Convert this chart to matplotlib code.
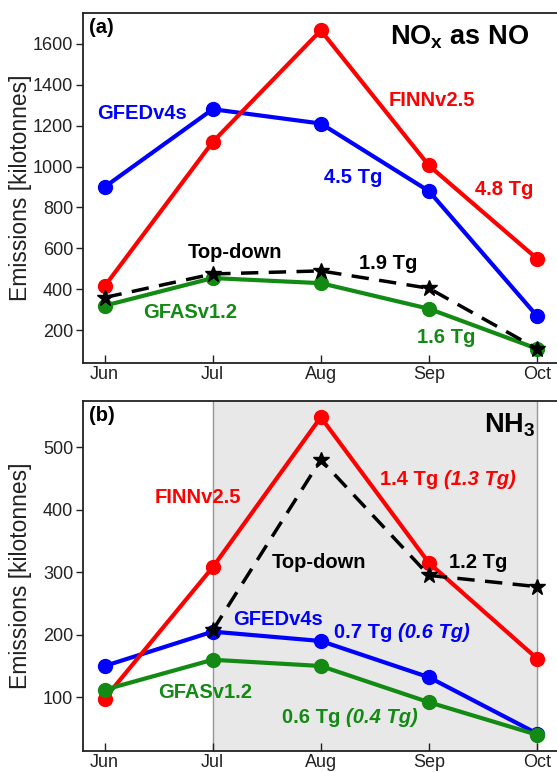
import matplotlib
matplotlib.use('Agg')
import matplotlib.pyplot as plt

plt.rcParams['font.family'] = ['Liberation Sans', 'DejaVu Sans']
plt.rcParams['mathtext.fontset'] = 'custom'
plt.rcParams['mathtext.rm'] = 'Liberation Sans'
plt.rcParams['mathtext.bf'] = 'Liberation Sans:bold'

# ── Data ───────────────────────────────────────────────────────────────────
months = ['Jun', 'Jul', 'Aug', 'Sep', 'Oct']
x = list(range(len(months)))

# (a) NOx as NO [kilotonnes]
nox_gfed = [900, 1280, 1210, 880, 270]
nox_finn = [415, 1120, 1665, 1005, 550]
nox_topdown = [360, 475, 490, 405, 110]
nox_gfas = [320, 455, 430, 305, 110]

# (b) NH3 [kilotonnes]
nh3_finn = [98, 308, 548, 315, 162]
nh3_gfed = [150, 205, 190, 132, 42]
nh3_gfas = [112, 160, 150, 92, 40]
nh3_topdown = [207, 480, 295, 277]   # Jul-Oct only
x_td_nh3 = x[1:]

RED, BLUE, GREEN = '#ff0000', '#0000ff', '#138a13'

# ── Figure ─────────────────────────────────────────────────────────────────
W, H = 557, 772
fig = plt.figure(figsize=(W / 100, H / 100), dpi=100)
ax1 = fig.add_axes([83 / W, 1 - 363 / H, 475.6 / W, 350 / H])
ax2 = fig.add_axes([83 / W, 1 - 751 / H, 475.6 / W, 350 / H])

def style(ax):
    ax.set_xlim(-0.2, 4.2)
    ax.set_xticks(x)
    ax.set_xticklabels(months)
    for s in ax.spines.values():
        s.set_color('#222222')
        s.set_linewidth(1.3)
    ax.tick_params(axis='x', direction='in', length=6, width=1, labelsize=13, pad=2, colors='#222222')
    ax.tick_params(axis='y', direction='out', length=5, width=1, labelsize=13, pad=2, colors='#222222')
    ax.set_ylabel('Emissions [kilotonnes]', fontsize=16.5, color='#222222')
    # same label position in both panels, clear of the widest tick label
    ax.yaxis.set_label_coords(-0.107, 0.5)

lw = 3
ms = 10
FS = 14.5

def label(ax, xv, yv, s, c):
    ax.text(xv, yv, s, color=c, fontsize=FS, fontweight='bold', ha='center', va='center')

def label2(ax, xv, yv, s1, s2, c):
    # upright total followed by italic value in brackets
    ax.text(xv, yv, s1 + ' ', color=c, fontsize=FS, fontweight='bold', ha='right', va='center')
    ax.text(xv, yv, s2, color=c, fontsize=FS, fontweight='bold', style='italic',
            ha='left', va='center')

# ── (a) NOx ───────────────────────────────────────────────────────────────
ax1.plot(x, nox_gfed, '-o', color=BLUE, lw=lw, ms=ms, zorder=3)
ax1.plot(x, nox_finn, '-o', color=RED, lw=lw, ms=ms, zorder=3)
ax1.plot(x, nox_gfas, '-o', color=GREEN, lw=lw, ms=ms, zorder=3)
ax1.plot(x, nox_topdown, '--*', color='black', lw=2.5, ms=12, dashes=(5, 3), zorder=4)
ax1.set_ylim(40, 1750)
ax1.set_yticks([200, 400, 600, 800, 1000, 1200, 1400, 1600])
style(ax1)

label(ax1, 0.35, 1260, 'GFEDv4s', BLUE)
label(ax1, 3.03, 1323, 'FINNv2.5', RED)
label(ax1, 2.30, 947, '4.5 Tg', BLUE)
label(ax1, 3.70, 887, '4.8 Tg', RED)
label(ax1, 1.21, 580, 'Top-down', 'black')
label(ax1, 2.62, 527, '1.9 Tg', 'black')
label(ax1, 0.79, 288, 'GFASv1.2', GREEN)
label(ax1, 3.16, 167, '1.6 Tg', GREEN)
ax1.text(0.012, 0.985, '(a)', transform=ax1.transAxes, fontsize=14.5,
         fontweight='bold', ha='left', va='top')
ax1.text(0.938, 0.93, r'$\mathbf{NO_x}$ as NO', transform=ax1.transAxes,
         fontsize=19.5, fontweight='bold', ha='right', va='center')

# ── (b) NH3 ───────────────────────────────────────────────────────────────
ax2.axvspan(1, 4, color='#e8e8e8', zorder=0)
ax2.axvline(1, color='#999999', lw=1, zorder=1)
ax2.axvline(4, color='#999999', lw=1, zorder=1)
ax2.plot(x, nh3_gfed, '-o', color=BLUE, lw=lw, ms=ms, zorder=3)
ax2.plot(x, nh3_finn, '-o', color=RED, lw=lw, ms=ms, zorder=3)
ax2.plot(x, nh3_gfas, '-o', color=GREEN, lw=lw, ms=ms, zorder=3)
ax2.plot(x_td_nh3, nh3_topdown, '--*', color='black', lw=2.5, ms=12, dashes=(5, 3), zorder=4)
ax2.set_ylim(14, 574)
ax2.set_yticks([100, 200, 300, 400, 500])
style(ax2)

label(ax2, 0.865, 420, 'FINNv2.5', RED)
label2(ax2, 3.14, 449, '1.4 Tg', '(1.3 Tg)', RED)
label(ax2, 1.98, 315, 'Top-down', 'black')
label(ax2, 3.46, 315, '1.2 Tg', 'black')
label(ax2, 1.60, 224, 'GFEDv4s', BLUE)
label2(ax2, 2.71, 203, '0.7 Tg', '(0.6 Tg)', BLUE)
label(ax2, 0.93, 107, 'GFASv1.2', GREEN)
label2(ax2, 2.23, 67, '0.6 Tg', '(0.4 Tg)', GREEN)
ax2.text(0.012, 0.985, '(b)', transform=ax2.transAxes, fontsize=14.5,
         fontweight='bold', ha='left', va='top')
ax2.text(0.952, 0.93, r'$\mathbf{NH_3}$', transform=ax2.transAxes,
         fontsize=19.5, fontweight='bold', ha='right', va='center')

fig.savefig('out.png', dpi=100)
